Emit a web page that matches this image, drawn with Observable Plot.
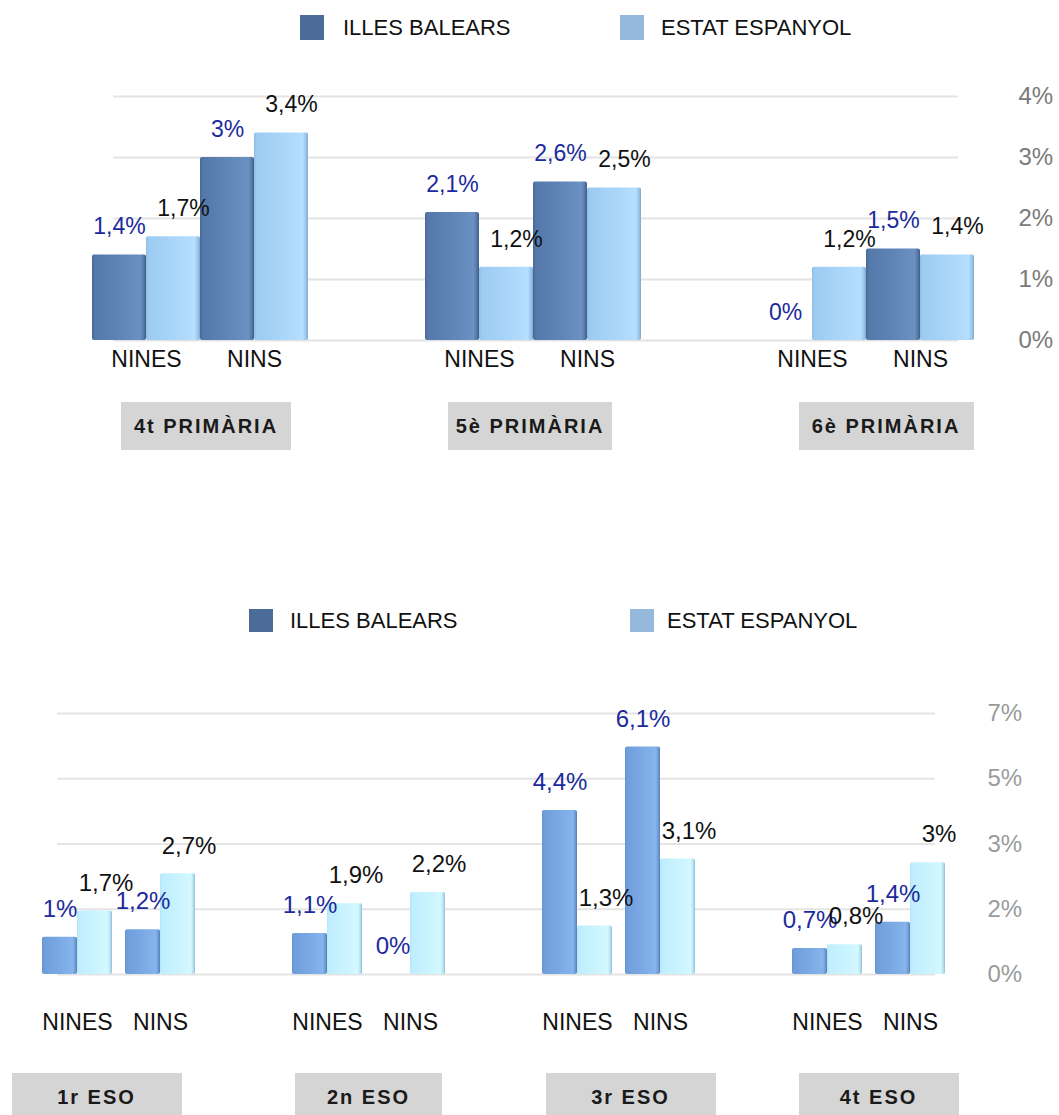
<!DOCTYPE html>
<html><head><meta charset="utf-8">
<script src="https://cdn.jsdelivr.net/npm/d3@7"></script>
<script src="https://cdn.jsdelivr.net/npm/@observablehq/plot@0.6"></script>
<style>
body{margin:0;background:#fff;font-family:"Liberation Sans",Arial,Helvetica,sans-serif;}
#root{position:relative;width:1059px;height:1115px;overflow:hidden;background:#fff;}
.panel{position:absolute;left:0;}
.sw{position:absolute;}
.lt{position:absolute;font-size:22px;color:#111;line-height:22px;white-space:nowrap;}
.gbox{position:absolute;background:#d5d5d5;display:flex;align-items:center;justify-content:center;font-weight:bold;font-size:20px;letter-spacing:2px;color:#1a1a1a;white-space:nowrap;}
</style></head><body><div id="root"></div>
<script>
// ---- data ----
const seriesNames = ["ILLES BALEARS", "ESTAT ESPANYOL"];
const sexes = ["NINES", "NINS"];

const primaryGroups = ["4t PRIMÀRIA", "5è PRIMÀRIA", "6è PRIMÀRIA"];
const primaryBalearsNines = [1.4, 2.1, 0];
const primaryEstatNines   = [1.7, 1.2, 1.2];
const primaryBalearsNins  = [3, 2.6, 1.5];
const primaryEstatNins    = [3.4, 2.5, 1.4];
const primaryTicks = [0, 1, 2, 3, 4];
const primaryTickLabels = ["0%", "1%", "2%", "3%", "4%"];

const esoGroups = ["1r ESO", "2n ESO", "3r ESO", "4t ESO"];
const esoBalearsNines = [1, 1.1, 4.4, 0.7];
const esoEstatNines   = [1.7, 1.9, 1.3, 0.8];
const esoBalearsNins  = [1.2, 0, 6.1, 1.4];
const esoEstatNins    = [2.7, 2.2, 3.1, 3];
const esoTicks = [0, 1.75, 3.5, 5.25, 7];
const esoTickLabels = ["0%", "2%", "3%", "5%", "7%"];

const fmt = v => (Number.isInteger(v) ? String(v) : v.toFixed(1).replace(".", ",")) + "%";

function buildRows(groups, bN, eN, bM, eM) {
  const rows = [];
  groups.forEach((g, i) => {
    rows.push({group: g, sex: "NINES", series: 0, value: bN[i]});
    rows.push({group: g, sex: "NINES", series: 1, value: eN[i]});
    rows.push({group: g, sex: "NINS", series: 0, value: bM[i]});
    rows.push({group: g, sex: "NINS", series: 1, value: eM[i]});
  });
  return rows;
}

const root = document.getElementById("root");
const FONT = '"Liberation Sans", Arial, Helvetica, sans-serif';

function legend(top, items) {
  items.forEach(it => {
    const s = document.createElement("div");
    s.className = "sw";
    Object.assign(s.style, {left: it.sx + "px", top: top + "px", width: "24px", height: it.sh + "px", background: it.color});
    root.appendChild(s);
    const t = document.createElement("div");
    t.className = "lt";
    t.textContent = it.label;
    Object.assign(t.style, {left: it.tx + "px", top: (top + it.sh / 2 - 11) + "px"});
    root.appendChild(t);
  });
}

function panel(cfg) {
  const rows = buildRows(cfg.groups, ...cfg.values);
  const base = {
    width: 1059, height: cfg.height,
    marginTop: cfg.marginTop, marginBottom: cfg.marginBottom,
    marginLeft: cfg.marginLeft, marginRight: cfg.marginRight,
    x: {type: "band", domain: cfg.groups, paddingInner: cfg.padding, paddingOuter: 0, axis: null},
    y: {domain: cfg.yDomain, axis: null}
  };
  // first pass to read the band width
  const probe = Plot.plot({...base, marks: [Plot.ruleY([0])]});
  const b = probe.scale("x").bandwidth;
  const gf = cfg.gapFrac;
  const w = (1 - gf) / 4;
  const offs = [0, w, 2 * w + gf, 3 * w + gf];
  const labelMap = new Map(cfg.ticks.map((t, i) => [t, cfg.tickLabels[i]]));

  const marks = [
    Plot.ruleY(cfg.ticks, {stroke: "#e4e4e4", strokeWidth: 2, insetLeft: cfg.gridInsetLeft, insetRight: cfg.gridInsetRight}),
    Plot.axisY({anchor: "right", ticks: cfg.ticks, tickSize: 0, tickPadding: cfg.tickPadding,
      tickFormat: d => labelMap.get(d), fontSize: 24, fill: cfg.tickColor, label: null, fontFamily: FONT})
  ];
  sexes.forEach((sx, si) => {
    [0, 1].forEach(k => {
      const j = si * 2 + k;
      const data = rows.filter(r => r.sex === sx && r.series === k);
      marks.push(Plot.barY(data, {
        x: "group", y: "value",
        fill: `url(#${cfg.id}-g${k})`,
        insetLeft: offs[j] * b,
        insetRight: b - (offs[j] + w) * b,
        rx: 2
      }));
    });
  });
  sexes.forEach((sx, si) => {
    [0, 1].forEach(k => {
      const j = si * 2 + k;
      const data = rows.filter(r => r.sex === sx && r.series === k);
      marks.push(Plot.text(data, {
        x: "group", y: "value", text: d => fmt(d.value),
        dx: (offs[j] + w / 2 - 0.5) * b + (k === 1 ? cfg.eeDx : 0),
        dy: -cfg.labelGap,
        fill: k === 0 ? "#1b2a9c" : "#111111",
        fontSize: cfg.labelSize, fontFamily: FONT
      }));
    });
  });
  const pairCenters = [w, 3 * w + gf];
  sexes.forEach((sx, si) => {
    marks.push(Plot.text(cfg.groups, {
      x: d => d, text: () => sx, frameAnchor: "bottom",
      dx: (pairCenters[si] - 0.5) * b, dy: cfg.sexDy,
      fill: "#111", fontSize: 23, fontFamily: FONT
    }));
  });

  const svg = Plot.plot({...base, style: {background: "transparent", overflow: "visible"}, marks});
  const defs = d3.select(svg).insert("defs", ":first-child");
  cfg.grads.forEach((stops, k) => {
    const g = defs.append("linearGradient").attr("id", `${cfg.id}-g${k}`)
      .attr("x1", "0").attr("x2", "1").attr("y1", "0").attr("y2", "0");
    stops.forEach(([o, c]) => g.append("stop").attr("offset", o).attr("stop-color", c));
  });
  const holder = document.createElement("div");
  holder.className = "panel";
  holder.style.top = cfg.top + "px";
  holder.appendChild(svg);
  root.appendChild(holder);

  const x = svg.scale("x");
  cfg.groups.forEach((g, i) => {
    const c = x.apply(g) + x.bandwidth / 2 + cfg.boxShift[i];
    const bw = cfg.boxW[i];
    const box = document.createElement("div");
    box.className = "gbox";
    box.textContent = g;
    Object.assign(box.style, {left: (c - bw / 2) + "px", top: cfg.boxTop + "px", width: bw + "px", height: cfg.boxH + "px"});
    root.appendChild(box);
  });
}

const gradTop = [
  [[0, "#466895"], [0.05, "#5478a9"], [0.5, "#5f84b6"], [0.9, "#6b90c2"], [0.96, "#5577a6"], [1, "#3e5c86"]],
  [[0, "#8fbde3"], [0.05, "#9dcbf1"], [0.5, "#a8d5f8"], [0.9, "#b5deff"], [0.96, "#9cc6ea"], [1, "#7ea7cc"]]
];
const gradBottom = [
  [[0, "#6592cf"], [0.06, "#6f9edb"], [0.5, "#7aa9e4"], [0.88, "#86b4ec"], [0.95, "#6f9bd4"], [1, "#557bb0"]],
  [[0, "#b3e4f8"], [0.06, "#c0eeff"], [0.5, "#c9f3ff"], [0.88, "#d4f8ff"], [0.95, "#b6e0f2"], [1, "#8fbcd8"]]
];

legend(15, [
  {sx: 300, tx: 343, sh: 25, color: "#4b6c96", label: seriesNames[0]},
  {sx: 620, tx: 661, sh: 25, color: "#94b9dc", label: seriesNames[1]}
]);
panel({
  id: "prim", top: 0, height: 460, marginTop: 96, marginBottom: 120, marginLeft: 91, marginRight: 83,
  groups: primaryGroups,
  values: [primaryBalearsNines, primaryEstatNines, primaryBalearsNins, primaryEstatNins],
  yDomain: [0, 4], ticks: primaryTicks, tickLabels: primaryTickLabels,
  padding: 0.35, gapFrac: 0, gridInsetLeft: 22, gridInsetRight: 18,
  tickPadding: 42, tickColor: "#7a7a7a", labelSize: 23, labelGap: 28, eeDx: 10, sexDy: 26,
  boxTop: 402, boxH: 48, boxW: [170, 164, 175], boxShift: [6, -3, 20], grads: gradTop
});

legend(609, [
  {sx: 249, tx: 290, sh: 23, color: "#4b6c96", label: seriesNames[0]},
  {sx: 630, tx: 667, sh: 23, color: "#94b9dc", label: seriesNames[1]}
]);
panel({
  id: "eso", top: 580, height: 535, marginTop: 133, marginBottom: 141, marginLeft: 40, marginRight: 113,
  groups: esoGroups,
  values: [esoBalearsNines, esoEstatNines, esoBalearsNins, esoEstatNins],
  yDomain: [0, 7], ticks: esoTicks, tickLabels: esoTickLabels,
  padding: 0.388, gapFrac: 0.085, gridInsetLeft: 17, gridInsetRight: 11,
  tickPadding: 41, tickColor: "#9b9b9b", labelSize: 24, labelGap: 28, eeDx: 11, sexDy: 55,
  boxTop: 1073, boxH: 48, boxW: [170, 147, 170, 160], boxShift: [-22, 0, 12, 10], grads: gradBottom
});
</script></body></html>
